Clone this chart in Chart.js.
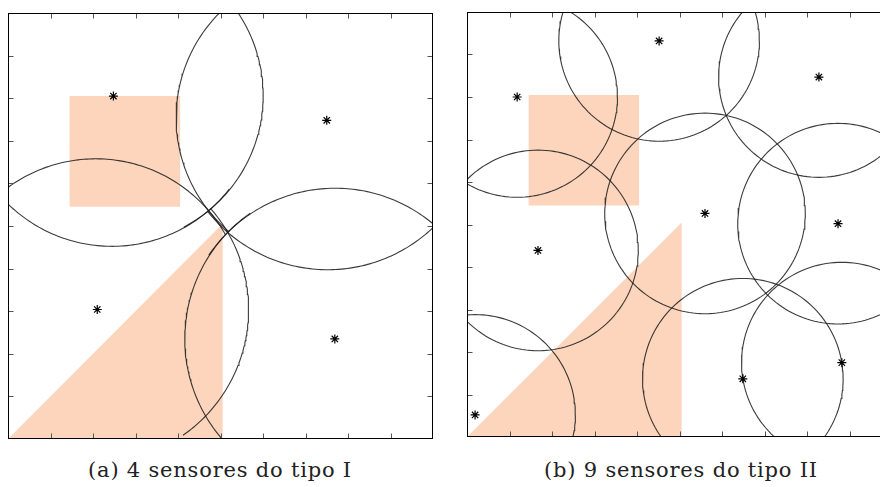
<!DOCTYPE html>
<html>
<head>
<meta charset="utf-8">
<script src="https://cdn.jsdelivr.net/npm/chart.js@4.4.0/dist/chart.umd.min.js"></script>
<style>
html, body { margin: 0; padding: 0; background: #fff; overflow: hidden; }
#wrap { position: relative; width: 880px; height: 487px; overflow: hidden; }
.panel { position: absolute; top: 0; width: 440px; height: 445px; }
.cap { position: absolute; top: 458px; width: 440px; text-align: center;
       font-family: "DejaVu Serif", serif; font-size: 21px; letter-spacing: 0.8px; color: #222; }
</style>
</head>
<body>
<div id="wrap">
  <div class="panel" style="left:0"><canvas id="chartA"></canvas></div>
  <div class="panel" style="left:459px"><canvas id="chartB"></canvas></div>
  <div class="cap" style="left:0">(a) 4 sensores do tipo I</div>
  <div class="cap" style="left:461px">(b) 9 sensores do tipo II</div>
</div>
<script>
// field is 0..10 in both directions, ticks every unit
var tickValues = [1, 2, 3, 4, 5, 6, 7, 8, 9];

// regions of interest (same in both panels)
var rectX = [1.45, 4.05, 4.05, 1.45];
var rectY = [5.45, 5.45, 8.05, 8.05];
var triX = [0, 5.05, 5.05];
var triY = [0, 0, 5.05];

// panel (a): 4 type I sensors
var sensorsAX = [2.48, 7.50, 2.10, 7.69];
var sensorsAY = [8.05, 7.48, 3.04, 2.35];
// lens shaped coverage: two tips + half width
var lensTipAX = [4.72, 4.72, 5.17, 5.17];
var lensTipAY = [5.36, 5.36, 4.85, 4.85];
var lensTipBX = [5.24, -0.21, 10.05, 4.65];
var lensTipBY = [10.24, 5.74, 5.01, 0.54];
var lensHalfWidth = [1.01, 1.02, 0.955, 0.73];
var lensOvershoot = 0.7;

// panel (b): 9 type II sensors, circular coverage
var sensorsBX = [4.52, 8.28, 1.18, 5.60, 8.73, 1.67, 6.49, 8.82, 0.19];
var sensorsBY = [9.32, 8.47, 8.00, 5.26, 5.02, 4.39, 1.37, 1.75, 0.52];
var rangeB = 2.36;

var regionColor = '#fdd5bc';

function pts(xs, ys) {
    var out = [];
    for (var i = 0; i < xs.length; i++) out.push({x: xs[i], y: ys[i]});
    return out;
}

function circlePts(cx, cy, r) {
    var out = [];
    for (var k = 0; k <= 160; k++) {
        var t = 2 * Math.PI * k / 160;
        out.push({x: cx + r * Math.cos(t), y: cy + r * Math.sin(t)});
    }
    return out;
}

// two circular arcs meeting at the tips, drawn a bit past them
function lensArcs(ax, ay, bx, by, h, over) {
    var mx = (ax + bx) / 2, my = (ay + by) / 2;
    var dx = bx - ax, dy = by - ay;
    var c = Math.hypot(dx, dy) / 2;
    var nx = -dy / (2 * c), ny = dx / (2 * c);
    var R = (c * c + h * h) / (2 * h);
    var a = Math.asin(c / R) + over / R;
    var arcs = [];
    [1, -1].forEach(function(s) {
        var cx = mx - s * nx * (R - h), cy = my - s * ny * (R - h);
        var base = Math.atan2(s * ny, s * nx);
        var p = [];
        for (var k = 0; k <= 100; k++) {
            var t = base - a + 2 * a * k / 100;
            p.push({x: cx + R * Math.cos(t), y: cy + R * Math.sin(t)});
        }
        arcs.push(p);
    });
    return arcs;
}

var framePlugin = {
    id: 'frame',
    afterDatasetsDraw: function(chart) {
        var a = chart.chartArea, ctx = chart.ctx;
        var l = Math.floor(a.left) + 0.5, r = Math.floor(a.right) - 0.5;
        var t = Math.floor(a.top) + 0.5, b = Math.floor(a.bottom) - 0.5;
        ctx.save();
        ctx.lineWidth = 1;
        ctx.strokeStyle = '#555';
        ctx.beginPath();
        tickValues.forEach(function(v) {
            var px = Math.round(chart.scales.x.getPixelForValue(v)) + 0.5;
            ctx.moveTo(px, t); ctx.lineTo(px, t + 5);
            ctx.moveTo(px, b); ctx.lineTo(px, b - 5);
            var py = Math.round(chart.scales.y.getPixelForValue(v)) + 0.5;
            ctx.moveTo(l, py); ctx.lineTo(l + 5, py);
            ctx.moveTo(r, py); ctx.lineTo(r - 5, py);
        });
        ctx.stroke();
        ctx.strokeStyle = '#000';
        ctx.strokeRect(l, t, r - l, b - t);
        ctx.restore();
    }
};

function regionSets() {
    return [
        {data: pts(rectX, rectY), fill: 'shape', backgroundColor: regionColor, borderWidth: 0, pointRadius: 0, order: 5},
        {data: pts(triX, triY), fill: 'shape', backgroundColor: regionColor, borderWidth: 0, pointRadius: 0, order: 5}
    ];
}

function lineSet(p) {
    return {data: p, borderColor: 'rgba(25,25,25,0.85)', borderWidth: 1.1, pointRadius: 0, fill: false, tension: 0, order: 3};
}

function starSet(xs, ys) {
    return {data: pts(xs, ys), showLine: false, pointStyle: 'star', pointRadius: 4.5,
            borderColor: '#000', backgroundColor: '#000', pointBorderWidth: 1.2, order: 1};
}

function makeChart(id, datasets, pad) {
    var el = document.getElementById(id);
    el.width = 440; el.height = 445;
    return new Chart(el, {
        type: 'line',
        data: {datasets: datasets},
        options: {
            responsive: false,
            animation: false,
            events: [],
            layout: {padding: pad},
            plugins: {legend: {display: false}, tooltip: {enabled: false}},
            scales: {
                x: {type: 'linear', min: 0, max: 10, display: false},
                y: {type: 'linear', min: 0, max: 10, display: false}
            }
        },
        plugins: [framePlugin]
    });
}

var setsA = regionSets();
for (var i = 0; i < lensTipAX.length; i++) {
    lensArcs(lensTipAX[i], lensTipAY[i], lensTipBX[i], lensTipBY[i], lensHalfWidth[i], lensOvershoot)
        .forEach(function(p) { setsA.push(lineSet(p)); });
}
setsA.push(starSet(sensorsAX, sensorsAY));

var setsB = regionSets();
for (var j = 0; j < sensorsBX.length; j++) {
    setsB.push(lineSet(circlePts(sensorsBX[j], sensorsBY[j], rangeB)));
}
setsB.push(starSet(sensorsBX, sensorsBY));

makeChart('chartA', setsA, {left: 8, top: 13, right: 7, bottom: 6});
makeChart('chartB', setsB, {left: 8, top: 12, right: 7, bottom: 8});
</script>
</body>
</html>
